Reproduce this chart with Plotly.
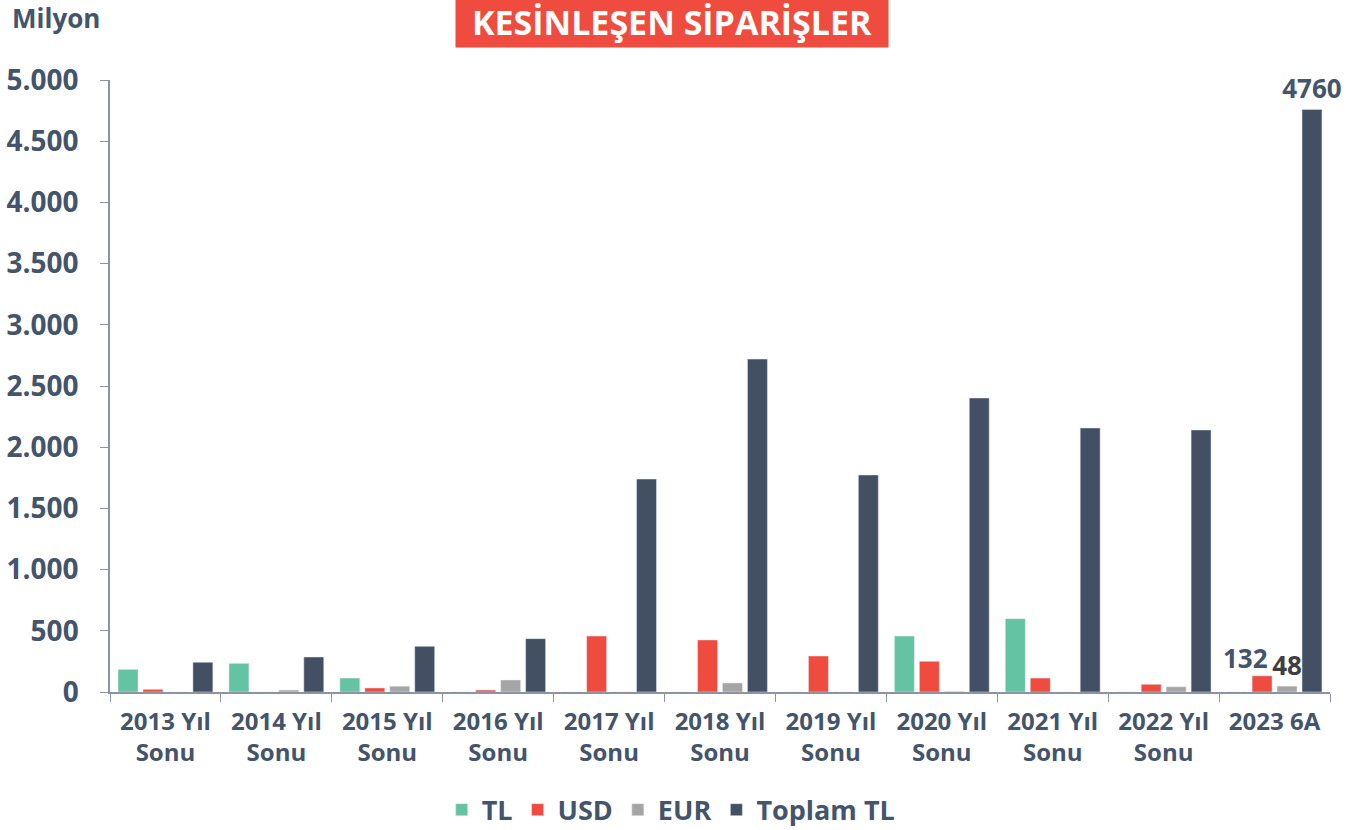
import plotly.graph_objects as go

categories = ["2013 Yıl<br>Sonu", "2014 Yıl<br>Sonu", "2015 Yıl<br>Sonu", "2016 Yıl<br>Sonu",
              "2017 Yıl<br>Sonu", "2018 Yıl<br>Sonu", "2019 Yıl<br>Sonu", "2020 Yıl<br>Sonu",
              "2021 Yıl<br>Sonu", "2022 Yıl<br>Sonu", "2023 6A"]
tl = [185, 234, 114, 0, 0, 0, 0, 457, 599, 0, 0]
usd = [22, 0, 33, 16, 457, 425, 294, 251, 114, 63, 132]
eur = [0, 16, 47, 98, 0, 74, 0, 5, 0, 43, 48]
toplam = [243, 286, 373, 436, 1740, 2720, 1773, 2402, 2157, 2141, 4760]

TXT = '#44546A'
FONT = 'Open Sans'

# only the last period is labelled
eur_text = [''] * (len(eur) - 1) + [str(eur[-1])]
top_text = [''] * (len(toplam) - 1) + [str(toplam[-1])]

fig = go.Figure()
fig.add_trace(go.Bar(x=categories, y=tl, name='TL', marker_color='#64C3A2'))
fig.add_trace(go.Bar(x=categories, y=usd, name='USD', marker_color='#EF4B3F'))
fig.add_trace(go.Bar(x=categories, y=eur, name='EUR', marker_color='#A5A5A5',
                     text=eur_text, textposition='outside', cliponaxis=False, constraintext='none',
                     textfont=dict(size=26, color='#3F3F3F', family=FONT, weight='bold')))
fig.add_trace(go.Bar(x=categories, y=toplam, name='Toplam TL', marker_color='#434F63',
                     text=top_text, textposition='outside', cliponaxis=False, constraintext='none',
                     textfont=dict(size=26, color=TXT, family=FONT, weight='bold')))

# USD label for 2023 sits slightly left of its bar
fig.add_annotation(x=categories[-1], y=usd[-1], text=str(usd[-1]), showarrow=False,
                   xshift=-29, yanchor='bottom', yshift=-2,
                   font=dict(size=26, color=TXT, family=FONT, weight='bold'))

fig.add_annotation(xref='paper', yref='paper', x=0.4603, y=1.0523, text='KESİNLEŞEN SİPARİŞLER',
                   showarrow=False, xanchor='center', yanchor='bottom', bgcolor='#EF4B3F',
                   borderpad=2, width=428,
                   font=dict(size=34, color='white', family=FONT, weight='bold'))
fig.add_annotation(xref='paper', yref='paper', x=-0.082, y=1.102, text='Milyon',
                   showarrow=False, xanchor='left', yanchor='middle',
                   font=dict(size=26, color=TXT, family=FONT, weight='bold'))

fig.update_layout(
    width=1346, height=830,
    paper_bgcolor='white', plot_bgcolor='white',
    margin=dict(l=110, r=16, t=80, b=138, autoexpand=False),
    barmode='group', bargap=0.1, bargroupgap=0.2,
    separators=',.',
    font=dict(family=FONT, color=TXT),
    showlegend=True,
    legend=dict(orientation='h', x=0.46, y=-0.193, xanchor='center', yanchor='middle',
                font=dict(size=27, color=TXT, family=FONT, weight='bold')),
    xaxis=dict(showline=True, linecolor='#8C94A3', linewidth=1.5, tickson='boundaries',
               ticks='outside', ticklen=8, tickcolor='#8C94A3', automargin=False,
               ticklabelstandoff=7,
               tickfont=dict(size=24, color=TXT, family=FONT, weight='bold')),
    yaxis=dict(range=[0, 5000], dtick=500, tickformat=',d', showgrid=False, zeroline=False,
               showline=True, linecolor='#8C94A3', linewidth=1.5, ticks='outside', ticklen=8,
               tickcolor='#8C94A3', ticklabelstandoff=16, automargin=False,
               tickfont=dict(size=28, color=TXT, family=FONT, weight='bold')),
)

# drop the default 8px page margin so the figure fills the window exactly
fig.write_html("out.html", config={'displayModeBar': False},
               post_script="document.body.style.margin = '0';")
